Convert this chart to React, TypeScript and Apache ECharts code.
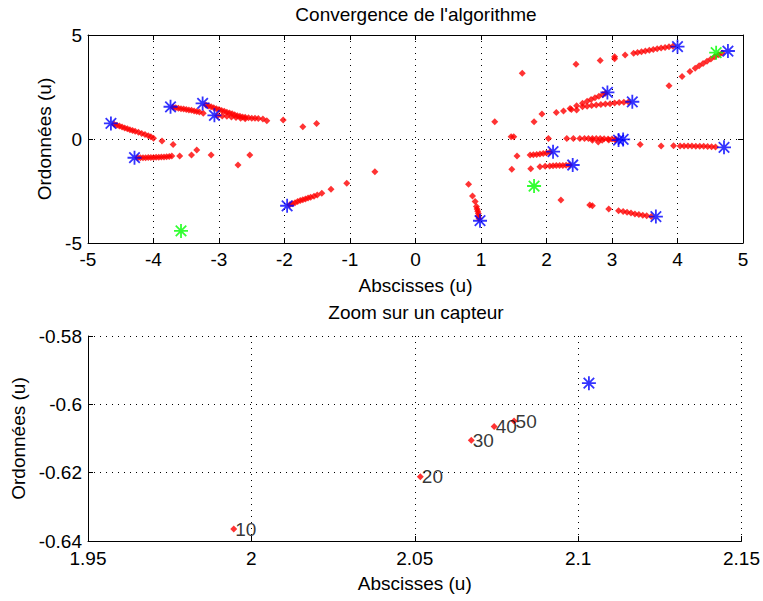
import React, { useEffect, useRef } from "react";
import * as echarts from "echarts";

const FONT = "'Liberation Sans', Arial, Helvetica, sans-serif";

// ---------- Top chart: "Convergence de l'algorithme" ----------
const topTitle = "Convergence de l'algorithme";
const topXRange = [-5, 5];
const topXStep = 1;
const topYRange = [-5, 5];
const topYStep = 5;

// red estimate trajectories (iterations)
const trajA: number[][] = [[-4.6, 0.71], [-4.56, 0.66], [-4.52, 0.62], [-4.48, 0.58], [-4.44, 0.53], [-4.4, 0.49], [-4.36, 0.45], [-4.32, 0.41], [-4.28, 0.37], [-4.23, 0.32], [-4.18, 0.27], [-4.13, 0.22], [-4.08, 0.16], [-4.04, 0.11], [-4.0, 0.04], [-3.87, -0.1], [-3.7, -0.26]];
const trajB: number[][] = [[-4.24, -0.9], [-4.2, -0.9], [-4.16, -0.9], [-4.12, -0.9], [-4.08, -0.89], [-4.04, -0.89], [-4.0, -0.89], [-3.96, -0.88], [-3.92, -0.88], [-3.88, -0.87], [-3.84, -0.86], [-3.8, -0.85], [-3.76, -0.84], [-3.72, -0.82], [-3.6, -0.82], [-3.42, -0.77], [-3.34, -0.53], [-3.12, -0.77], [-2.71, -1.25], [-2.53, -0.77]];
const trajC: number[][] = [[-3.7, 1.53], [-3.66, 1.5], [-3.62, 1.48], [-3.58, 1.46], [-3.54, 1.44], [-3.5, 1.42], [-3.46, 1.4], [-3.42, 1.38], [-3.38, 1.35], [-3.34, 1.32], [-3.3, 1.3], [-3.24, 1.24]];
const trajD: number[][] = [[-3.2, 1.63], [-3.16, 1.59], [-3.12, 1.55], [-3.08, 1.5], [-3.04, 1.46], [-3.0, 1.42], [-2.96, 1.37], [-2.92, 1.33], [-2.88, 1.29], [-2.84, 1.25], [-2.8, 1.21], [-2.76, 1.16], [-2.72, 1.12], [-2.68, 1.09], [-2.64, 1.06], [-2.6, 1.04], [-2.55, 1.02], [-2.5, 1.0], [-2.45, 1.0], [-2.4, 0.98], [-2.33, 0.96], [-2.27, 0.88], [-2.02, 0.91], [-1.72, 0.59], [-1.51, 0.75]];
const trajD2: number[][] = [[-3.02, 1.12], [-2.95, 1.11], [-2.88, 1.09], [-2.81, 1.06], [-2.74, 1.03], [-2.67, 1.0], [-2.6, 0.97]];
const trajE: number[][] = [[-1.92, -3.16], [-1.88, -3.11], [-1.84, -3.06], [-1.8, -3.01], [-1.76, -2.96], [-1.72, -2.92], [-1.68, -2.88], [-1.64, -2.84], [-1.6, -2.8], [-1.55, -2.75], [-1.5, -2.69], [-1.43, -2.61], [-1.29, -2.42], [-1.05, -2.13], [-0.62, -1.57]];
const trajF: number[][] = [[0.97, -3.82], [0.96, -3.7], [0.96, -3.58], [0.95, -3.47], [0.94, -3.36], [0.93, -3.24], [0.91, -3.01], [0.87, -2.74], [0.81, -2.18]];
const trajG: number[][] = [[1.55, -0.82], [1.75, -0.77], [1.8, -0.76], [1.85, -0.74], [1.9, -0.72], [1.95, -0.7], [2.0, -0.67], [2.05, -0.64]];
const trajH: number[][] = [[1.47, -1.46], [1.76, -1.43], [1.9, -1.33], [1.98, -1.31], [2.05, -1.3], [2.1, -1.29], [2.15, -1.28], [2.2, -1.27], [2.25, -1.27], [2.3, -1.26], [2.35, -1.25]];
const trajI: number[][] = [[2.15, 1.27], [2.26, 1.35], [2.36, 1.47], [2.46, 1.6], [2.55, 1.72], [2.62, 1.82], [2.68, 1.9], [2.74, 1.98], [2.8, 2.06], [2.86, 2.14], [2.9, 2.2]];
const trajJ: number[][] = [[2.38, 1.42], [2.46, 1.39], [2.55, 1.55], [2.62, 1.58], [2.69, 1.61], [2.76, 1.63], [2.83, 1.66], [2.9, 1.68], [2.97, 1.7], [3.04, 1.73], [3.11, 1.75], [3.18, 1.77], [3.25, 1.78]];
const trajK: number[][] = [[1.46, 0.11], [1.5, 0.11], [2.03, 0.03], [2.31, 0.03], [2.41, 0.02], [2.51, 0.03], [2.58, 0.02], [2.64, 0.03], [2.7, 0.02], [2.76, 0.02], [2.82, 0.02], [2.88, 0.01], [2.94, 0.0], [3.0, 0.0], [3.06, -0.01], [2.7, -0.06], [2.79, -0.15], [2.85, -0.06], [2.95, -0.05], [3.05, -0.05]];
const trajL: number[][] = [[3.43, -0.26], [3.75, -0.34], [3.94, -0.32], [4.04, -0.34], [4.1, -0.34], [4.16, -0.34], [4.22, -0.34], [4.28, -0.35], [4.34, -0.35], [4.4, -0.35], [4.46, -0.36], [4.52, -0.37], [4.58, -0.38]];
const trajM: number[][] = [[2.22, -2.93], [2.7, -3.21], [2.95, -3.37], [3.1, -3.45], [3.17, -3.49], [3.23, -3.52], [3.29, -3.56], [3.35, -3.6], [3.41, -3.63], [3.47, -3.66], [3.53, -3.69], [3.6, -3.72]];
const trajN: number[][] = [[2.45, 3.59], [2.82, 3.77], [3.04, 3.96], [3.04, 3.86], [3.2, 4.04], [3.33, 4.12], [3.39, 4.16], [3.45, 4.2], [3.51, 4.23], [3.57, 4.27], [3.63, 4.3], [3.69, 4.34], [3.75, 4.37], [3.81, 4.4], [3.87, 4.43], [3.93, 4.46]];
const trajO: number[][] = [[3.87, 2.56], [4.07, 3.0], [4.19, 3.24], [4.27, 3.4], [4.33, 3.52], [4.39, 3.63], [4.45, 3.74], [4.51, 3.85], [4.57, 3.96], [4.63, 4.05], [4.68, 4.14]];
const isolated: number[][] = [[1.63, 3.16], [1.21, 0.83], [1.81, 0.83], [1.93, 1.2], [2.66, -3.17]];

// blue: true sensor positions, green: anchors
const blueStars: number[][] = [[-4.65, 0.75], [-4.29, -0.9], [-3.74, 1.55], [-3.25, 1.71], [-3.07, 1.14], [-1.96, -3.21], [0.985, -3.93], [2.1, -0.61], [2.4, -1.25], [2.93, 2.24], [3.31, 1.79], [3.1, -0.05], [3.17, -0.02], [4.0, 4.44], [4.77, 4.23], [4.71, -0.4], [3.67, -3.73]];
const greenStars: number[][] = [[-3.58, -4.42], [1.81, -2.26], [4.59, 4.15]];

// ---------- Bottom chart: "Zoom sur un capteur" ----------
const bottomTitle = "Zoom sur un capteur";
const bottomXRange = [1.95, 2.15];
const bottomXStep = 0.05;
const bottomYRange = [-0.64, -0.58];
const bottomYStep = 0.02;
const zoomX = [1.9946, 2.0517, 2.0673, 2.0743, 2.0804];
const zoomY = [-0.6365, -0.6212, -0.6105, -0.6065, -0.6049];
const zoomLabels = ["10", "20", "30", "40", "50"];
const zoomSensor: number[][] = [[2.1033, -0.5938]];

const xName = "Abscisses (u)";
const yName = "Ordonnées (u)";

const STAR =
  "path://M8.7 0H11.3V20H8.7Z M0 8.7H20V11.3H0Z M3.4 1.6L18.4 16.6L16.6 18.4L1.6 3.4Z M16.6 1.6L18.4 3.4L3.4 18.4L1.6 16.6Z";

const FS = 19;

export default function App() {
  const ref = useRef<HTMLDivElement>(null);

  useEffect(() => {
    if (!ref.current) return;
    const chart = echarts.init(ref.current, undefined, { renderer: "svg" });

    const redTop = [
      ...trajA, ...trajB, ...trajC, ...trajD, ...trajD2, ...trajE, ...trajF, ...trajG,
      ...trajH, ...trajI, ...trajJ, ...trajK, ...trajL, ...trajM, ...trajN, ...trajO, ...isolated,
    ];

    const axisLine = { show: true, onZero: false, lineStyle: { color: "#000", width: 1 } };
    const tick = { show: true, inside: true, length: 5, lineStyle: { color: "#000", width: 1 } };
    const split = { show: true, lineStyle: { color: "#000", width: 1, type: [1, 5] as any } };
    const label = (margin: number) => ({ show: true, color: "#000", fontSize: FS, fontFamily: FONT, margin });
    const nameStyle = { color: "#000", fontSize: FS, fontFamily: FONT };

    const option: any = {
      animation: false,
      backgroundColor: "#fff",
      textStyle: { fontFamily: FONT },
      graphic: [
        { type: "text", x: 416, y: 14, style: { text: topTitle, align: "center", verticalAlign: "middle", fontSize: FS, fontFamily: FONT, fill: "#000" } },
        { type: "text", x: 416, y: 312, style: { text: bottomTitle, align: "center", verticalAlign: "middle", fontSize: FS, fontFamily: FONT, fill: "#000" } },
      ],
      grid: [
        { left: 88, top: 35, width: 655, height: 208 },
        { left: 88, top: 336, width: 655, height: 205 },
      ],
      xAxis: [
        {
          gridIndex: 0, type: "value", position: "bottom", min: topXRange[0], max: topXRange[1], interval: topXStep,
          axisLine, axisTick: tick, splitLine: split, axisLabel: label(7),
          name: xName, nameLocation: "middle", nameGap: 33, nameTextStyle: nameStyle,
        },
        {
          gridIndex: 0, type: "value", position: "top", min: topXRange[0], max: topXRange[1], interval: topXStep,
          axisLine, axisTick: tick, splitLine: { show: false }, axisLabel: { show: false },
        },
        {
          gridIndex: 1, type: "value", position: "bottom", min: bottomXRange[0], max: bottomXRange[1], interval: bottomXStep,
          axisLine, axisTick: tick, splitLine: split, axisLabel: label(8),
          name: xName, nameLocation: "middle", nameGap: 33, nameTextStyle: nameStyle,
        },
      ],
      yAxis: [
        {
          gridIndex: 0, type: "value", position: "left", min: topYRange[0], max: topYRange[1], interval: topYStep,
          axisLine, axisTick: tick, splitLine: split, axisLabel: label(6),
          name: yName, nameLocation: "middle", nameGap: 32, nameTextStyle: nameStyle,
        },
        {
          gridIndex: 0, type: "value", position: "right", min: topYRange[0], max: topYRange[1], interval: topYStep,
          axisLine, axisTick: tick, splitLine: { show: false }, axisLabel: { show: false },
        },
        {
          gridIndex: 1, type: "value", position: "left", min: bottomYRange[0], max: bottomYRange[1], interval: bottomYStep,
          axisLine, axisTick: tick, splitLine: split, axisLabel: label(6),
          name: yName, nameLocation: "middle", nameGap: 58, nameTextStyle: nameStyle,
        },
      ],
      series: [
        {
          type: "scatter", xAxisIndex: 0, yAxisIndex: 0, data: redTop,
          symbol: "diamond", symbolSize: 7, itemStyle: { color: "#ff0000" }, silent: true,
        },
        {
          type: "scatter", xAxisIndex: 0, yAxisIndex: 0, data: blueStars,
          symbol: STAR, symbolSize: 14, itemStyle: { color: "#0000ff" }, silent: true,
        },
        {
          type: "scatter", xAxisIndex: 0, yAxisIndex: 0, data: greenStars,
          symbol: STAR, symbolSize: 14, itemStyle: { color: "#00ff00" }, silent: true,
        },
        {
          type: "scatter", xAxisIndex: 2, yAxisIndex: 2,
          data: zoomX.map((x, i) => [x, zoomY[i]]),
          symbol: "diamond", symbolSize: 7, itemStyle: { color: "#ff0000" }, silent: true,
          label: {
            show: true, position: "right", distance: -2, color: "#000", fontSize: FS, fontFamily: FONT,
            formatter: (p: any) => zoomLabels[p.dataIndex],
          },
        },
        {
          type: "scatter", xAxisIndex: 2, yAxisIndex: 2, data: zoomSensor,
          symbol: STAR, symbolSize: 14, itemStyle: { color: "#0000ff" }, silent: true,
        },
      ],
    };

    chart.setOption(option);
    return () => chart.dispose();
  }, []);

  return (
    <div
      ref={ref}
      style={{ position: "fixed", left: 0, top: 0, width: 763, height: 601, background: "#fff" }}
    />
  );
}
